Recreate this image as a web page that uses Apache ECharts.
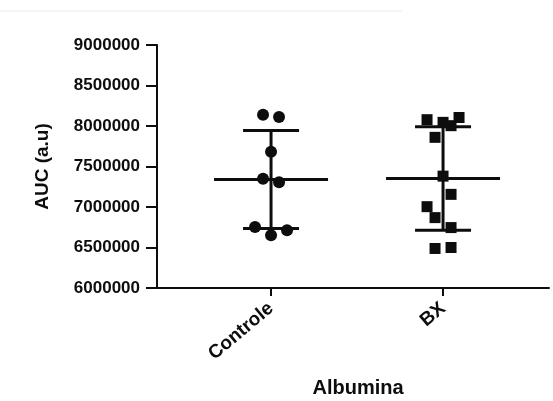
<!DOCTYPE html>
<html>
<head>
<meta charset="utf-8">
<script src="https://cdn.jsdelivr.net/npm/echarts@6/dist/echarts.min.js"></script>
<style>
  html, body { margin: 0; padding: 0; background: #fff; }
  #chart { width: 553px; height: 401px; }
</style>
</head>
<body>
<div id="chart"></div>
<script>
// Group names along the x axis
const categories = ['Controle', 'BX'];

// AUC values per animal, with horizontal spread slots so overlapping marks stay visible
const controleValues = [8139000, 8111000, 7681000, 7349000, 7307000, 6754000, 6713000, 6652000];
const controleSpread = [-1, 1, 0, -1, 1, -2, 2, 0];
const bxValues = [8078000, 8045000, 8004000, 8105000, 7860000, 7381000, 7156000, 7004000, 6869000, 6746000, 6488000, 6500000];
const bxSpread = [-2, 0, 1, 2, -1, 0, 1, -2, -1, 1, -1, 1];

// Y axis ticks
const yMin = 6000000;
const yMax = 9000000;
const yStep = 500000;

const FONT = '"Liberation Sans", Arial, Helvetica, sans-serif';
const INK = '#0d0d0d';
const SPREAD_PX = 8;

function mean(a) { return a.reduce((s, v) => s + v, 0) / a.length; }
function sd(a) {
  const m = mean(a);
  return Math.sqrt(a.reduce((s, v) => s + (v - m) * (v - m), 0) / (a.length - 1));
}

function points(values, spread, pos) {
  return values.map((v, i) => ({ value: [pos, v], symbolOffset: [spread[i] * SPREAD_PX, 0] }));
}

const summary = [
  [1, mean(controleValues), sd(controleValues)],
  [2, mean(bxValues), sd(bxValues)]
];

const chart = echarts.init(document.getElementById('chart'), null, { renderer: 'canvas' });

chart.setOption({
  animation: false,
  backgroundColor: '#fff',
  grid: { left: 157, right: 4, top: 45, bottom: 113, outerBoundsMode: 'none' },
  graphic: [{
    type: 'line',
    shape: { x1: 0, y1: 11, x2: 402, y2: 11 },
    style: { stroke: '#ececec', lineWidth: 1 },
    silent: true
  }],
  xAxis: {
    type: 'value',
    min: 0.337,
    max: 2.616,
    name: 'Albumina',
    nameLocation: 'middle',
    nameGap: 90,
    nameTextStyle: { fontFamily: FONT, fontWeight: 'bold', fontSize: 20, color: INK, padding: [0, 0, 0, 10] },
    axisLine: { show: true, onZero: false, lineStyle: { color: INK, width: 2 } },
    axisTick: { show: true, inside: false, length: 8, customValues: [1, 2], lineStyle: { color: INK, width: 2 } },
    axisLabel: {
      customValues: [1, 2],
      formatter: v => categories[Math.round(v) - 1],
      rotate: 40,
      margin: 18,
      fontFamily: FONT,
      fontWeight: 'bold',
      fontSize: 19,
      color: INK
    },
    splitLine: { show: false }
  },
  yAxis: {
    type: 'value',
    min: yMin,
    max: yMax,
    interval: yStep,
    name: 'AUC (a.u)',
    nameLocation: 'middle',
    nameRotate: 90,
    nameGap: 105,
    nameTextStyle: { fontFamily: FONT, fontWeight: 'bold', fontSize: 19, color: INK },
    axisLine: { show: true, onZero: false, lineStyle: { color: INK, width: 2 } },
    axisTick: { show: true, inside: false, length: 11, lineStyle: { color: INK, width: 2 } },
    axisLabel: {
      formatter: v => String(v),
      margin: 17,
      fontFamily: FONT,
      fontWeight: 'bold',
      fontSize: 17,
      color: INK
    },
    splitLine: { show: false }
  },
  series: [
    {
      type: 'custom',
      name: 'mean ± SD',
      data: summary,
      z: 3,
      renderItem: function (params, api) {
        const x = api.value(0), m = api.value(1), s = api.value(2);
        const c = api.coord([x, m]);
        const hi = api.coord([x, m + s]);
        const lo = api.coord([x, m - s]);
        const style = { stroke: INK, lineWidth: 3 };
        const meanHalf = 57, capHalf = 28;
        return {
          type: 'group',
          children: [
            { type: 'line', shape: { x1: c[0] - meanHalf, y1: c[1], x2: c[0] + meanHalf, y2: c[1] }, style },
            { type: 'line', shape: { x1: c[0], y1: hi[1], x2: c[0], y2: lo[1] }, style },
            { type: 'line', shape: { x1: c[0] - capHalf, y1: hi[1], x2: c[0] + capHalf, y2: hi[1] }, style },
            { type: 'line', shape: { x1: c[0] - capHalf, y1: lo[1], x2: c[0] + capHalf, y2: lo[1] }, style }
          ]
        };
      }
    },
    {
      type: 'scatter',
      name: categories[0],
      symbol: 'circle',
      symbolSize: 12,
      itemStyle: { color: INK, opacity: 1 },
      z: 4,
      data: points(controleValues, controleSpread, 1)
    },
    {
      type: 'scatter',
      name: categories[1],
      symbol: 'rect',
      symbolSize: 11,
      itemStyle: { color: INK, opacity: 1 },
      z: 4,
      data: points(bxValues, bxSpread, 2)
    }
  ]
});
</script>
</body>
</html>
